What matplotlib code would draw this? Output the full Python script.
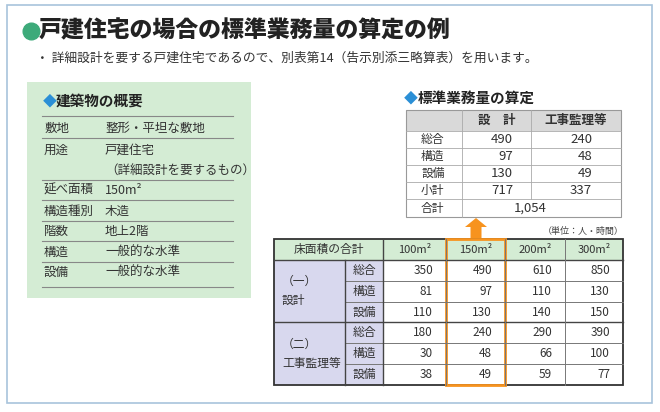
import matplotlib.pyplot as plt
from matplotlib.patches import Rectangle, FancyArrow

plt.rcParams['font.family'] = 'Noto Sans CJK JP'

# data
title = '戸建住宅の場合の標準業務量の算定の例'
subtitle = '・ 詳細設計を要する戸建住宅であるので、別表第14（告示別添三略算表）を用います。'

outline_labels = ['敷地', '用途', '', '延べ面積', '構造種別', '階数', '構造', '設備']
outline_values = ['整形・平坦な敷地', '戸建住宅', '（詳細設計を要するもの）', '150m²',
                  '木造', '地上2階', '一般的な水準', '一般的な水準']

calc_cols = ['設　計', '工事監理等']
calc_rows = ['総合', '構造', '設備', '小計']
calc_design = [490, 97, 130, 717]
calc_super = [240, 48, 49, 337]
calc_total = '1,054'

areas = ['100m²', '150m²', '200m²', '300m²']
groups = ['（一）\n設計', '（二）\n工事監理等']
subs = ['総合', '構造', '設備']
table = [[350, 490, 610, 850],
         [81, 97, 110, 130],
         [110, 130, 140, 150],
         [180, 240, 290, 390],
         [30, 48, 66, 100],
         [38, 49, 59, 77]]

GREEN = '#d4ecd4'
LAV = '#d8d8ee'
ORANGE = '#f7931e'
DIA = '#2b8fd6'

fig = plt.figure(figsize=(6.6, 4.12), dpi=100)
ax = fig.add_axes([0, 0, 1, 1])
ax.set_xlim(0, 660)
ax.set_ylim(412, 0)
ax.axis('off')

ax.add_patch(Rectangle((7, 5), 645, 398, fill=False, ec='#a8c4dc', lw=1.2))

# title
ax.plot(31, 31, 'o', ms=12, color='#3daa7a')
ax.text(39, 31, title, fontsize=16.5, fontweight='heavy', va='center', color='#222222')
ax.text(36, 58, subtitle, fontsize=9.2, va='center', color='#333333')

# building outline box
ax.add_patch(Rectangle((27, 82), 224, 216, color=GREEN, lw=0))
ax.text(43, 101, '◆', fontsize=10, color=DIA, va='center')
ax.text(56, 101, '建築物の概要', fontsize=10.5, fontweight='bold', va='center', color='#222222')
row_y = [128, 150, 171, 190, 211, 231, 252, 272]
lines_y = [116, 138, 180, 200, 221, 241, 262, 287]
for y in lines_y:
    ax.plot([42, 233], [y, y], color='#888888', lw=0.8)
for lab, val, y in zip(outline_labels, outline_values, row_y):
    ax.text(44, y, lab, fontsize=9, va='center', color='#333333')
    ax.text(105, y, val, fontsize=9, va='center', color='#333333')

# standard workload table
ax.text(404, 98, '◆', fontsize=10, color=DIA, va='center')
ax.text(418, 98, '標準業務量の算定', fontsize=10.5, fontweight='bold', va='center', color='#222222')
cx = [406, 462, 531, 621]
ty = [110, 131, 148, 165, 182, 199, 217]
ax.add_patch(Rectangle((cx[0], ty[0]), cx[3] - cx[0], ty[1] - ty[0], color='#d9d9d9', lw=0))
ax.add_patch(Rectangle((cx[0], ty[0]), cx[3] - cx[0], ty[-1] - ty[0], fill=False, ec='#999999', lw=0.8))
for y in ty[1:-1]:
    ax.plot([cx[0], cx[3]], [y, y], color='#aaaaaa', lw=0.6)
ax.plot([cx[1], cx[1]], [ty[0], ty[-1]], color='#aaaaaa', lw=0.6)
ax.plot([cx[2], cx[2]], [ty[0], ty[-2]], color='#aaaaaa', lw=0.6)
for j, c in enumerate(calc_cols):
    ax.text((cx[j + 1] + cx[j + 2]) / 2, (ty[0] + ty[1]) / 2, c, fontsize=9,
            fontweight='bold', ha='center', va='center', color='#333333')
for i, r in enumerate(calc_rows):
    yc = (ty[i + 1] + ty[i + 2]) / 2
    ax.text(421, yc, r, fontsize=8.5, va='center', color='#333333')
    ax.text(513, yc, str(calc_design[i]), fontsize=9.5, ha='right', va='center', color='#333333')
    ax.text(592, yc, str(calc_super[i]), fontsize=9.5, ha='right', va='center', color='#333333')
ax.text(421, (ty[5] + ty[6]) / 2, '合計', fontsize=8.5, va='center', color='#333333')
ax.text(530, (ty[5] + ty[6]) / 2, calc_total, fontsize=9.5, ha='center', va='center', color='#333333')

# arrow
ax.add_patch(FancyArrow(476, 240, 0, -22, width=11, head_width=22, head_length=9,
                        length_includes_head=True, color=ORANGE, lw=0))
ax.text(624, 231, '（単位：人・時間）', fontsize=6.5, ha='right', va='center', color='#444444')

# area table
bx = [274, 345, 383, 446, 505, 565, 623]
by = [239, 260] + [260 + 20.8 * k for k in range(1, 7)]
ax.add_patch(Rectangle((bx[0], by[0]), bx[-1] - bx[0], by[1] - by[0], color=GREEN, lw=0))
ax.add_patch(Rectangle((bx[0], by[1]), bx[2] - bx[0], by[-1] - by[1], color=LAV, lw=0))
for y in by[2:-1]:
    ax.plot([bx[1], bx[-1]], [y, y], color='#777777', lw=0.7)
ax.plot([bx[0], bx[-1]], [by[4], by[4]], color='#444444', lw=1.0)
ax.plot([bx[0], bx[-1]], [by[1], by[1]], color='#444444', lw=1.0)
for x in bx[3:-1]:
    ax.plot([x, x], [by[0], by[-1]], color='#777777', lw=0.7)
for x in bx[1:3]:
    ax.plot([x, x], [by[1] if x == bx[1] else by[0], by[-1]], color='#444444', lw=1.0)
ax.add_patch(Rectangle((bx[0], by[0]), bx[-1] - bx[0], by[-1] - by[0], fill=False, ec='#333333', lw=1.3))
ax.text((bx[0] + bx[2]) / 2, (by[0] + by[1]) / 2, '床面積の合計', fontsize=8.5,
        ha='center', va='center', color='#333333')
for j, a in enumerate(areas):
    ax.text((bx[j + 2] + bx[j + 3]) / 2, (by[0] + by[1]) / 2, a, fontsize=8,
            ha='center', va='center', color='#333333')
for g, grp in enumerate(groups):
    ax.text(282, (by[1 + 3 * g] + by[4 + 3 * g]) / 2, grp, fontsize=8.5, va='center',
            color='#333333', linespacing=1.6)
for i, row in enumerate(table):
    yc = (by[i + 1] + by[i + 2]) / 2
    ax.text((bx[1] + bx[2]) / 2, yc, subs[i % 3], fontsize=8.5, ha='center', va='center', color='#333333')
    for j, v in enumerate(row):
        ax.text(bx[j + 3] - 13, yc, str(v), fontsize=8.5, ha='right', va='center', color='#333333')
ax.add_patch(Rectangle((bx[3], by[0]), bx[4] - bx[3], by[-1] - by[0], fill=False, ec=ORANGE, lw=2))

fig.savefig('out.png', dpi=100)
